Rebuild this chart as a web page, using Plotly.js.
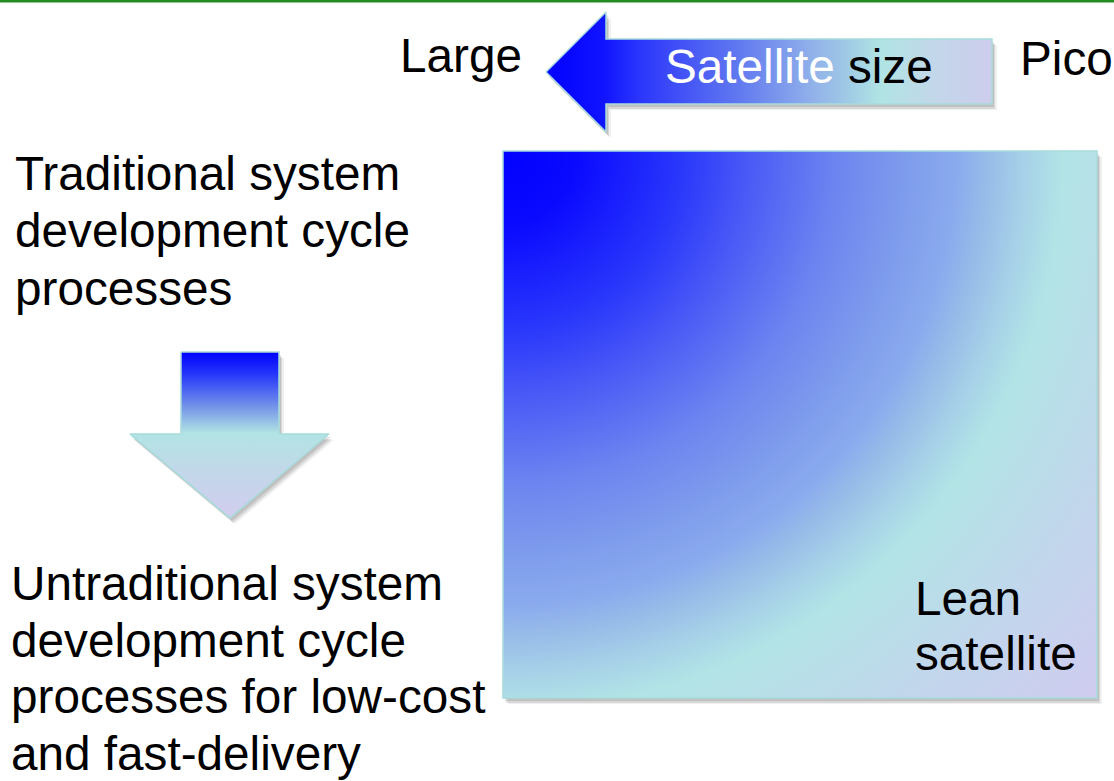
<!DOCTYPE html>
<html><head><meta charset="utf-8">
<script src="https://cdn.plot.ly/plotly-3.0.1.min.js"></script>
<style>html,body{margin:0;padding:0;background:#fff}</style>
</head><body><div id="chart" style="width:1114px;height:781px"></div>
<script>
// ---- text content ----
const sizeEnds = ['Large', 'Pico'];
const arrowWordLight = 'Satellite';
const arrowWordDark = 'size';
const traditionalLines = ['Traditional system', 'development cycle', 'processes'];
const untraditionalLines = ['Untraditional system', 'development cycle', 'processes for low-cost', 'and fast-delivery'];
const leanLines = ['Lean', 'satellite'];

// ---- geometry (page pixels, y downward) ----
const sizeArrowX = [546, 606, 606, 992, 992, 606, 606, 546];
const sizeArrowY = [72, 12, 39, 39, 104, 104, 132, 72];
const downArrowX = [181, 279, 279, 329, 230, 130, 181, 181];
const downArrowY = [352, 352, 434, 434, 518, 434, 434, 352];
const sq = {x0: 503, x1: 1097, y0: 151, y1: 698};
const glowHalf = 900; // radius of the square's radial shading, centred at its top-left corner

// ---- colours ----
const sizeArrowScale = [[0,'#0000ff'],[0.13,'#1014ff'],[0.21,'#2a36fc'],[0.27,'#3a48f8'],[0.43,'#6078f0'],[0.6,'#92b2ea'],[0.66,'#9cc4e6'],[0.75,'#b0e4e4'],[0.88,'#c4d6ea'],[1,'#cdcdec']];
// top -> bottom
const downArrowTopToBottom = [[0,'#0000ff'],[0.13,'#2535fb'],[0.33,'#7494e8'],[0.49,'#b2e4e4'],[0.75,'#c4d6ea'],[1,'#d2ccee']];
const squareScale = [[0,'#0000ff'],[0.083,'#0a0aff'],[0.2,'#2a38fb'],[0.274,'#4a5af6'],[0.369,'#6c84f0'],[0.449,'#7e9cec'],[0.504,'#8aaaee'],[0.539,'#98bce8'],[0.578,'#a6d0e8'],[0.622,'#b2e4e6'],[0.756,'#c2d6ec'],[0.897,'#d0ccf0'],[1,'#d2ccf0']];
const edgeColor = '#a6dcdc';
const FONT = 'Liberation Sans, Arial, sans-serif';
const FS = 47.7;

const shift = (arr, d) => arr.map(v => v + d);
// vertical fill gradients run bottom -> top, so flip the stops
const downArrowScale = downArrowTopToBottom.map(([t,c]) => [1 - t, c]).reverse();

const traces = [];
// shadows of arrows
[[2,3,0.10],[3,5,0.10],[5,6,0.06]].forEach(([dx,dy,a]) => {
  traces.push({x: shift(sizeArrowX,dx), y: shift(sizeArrowY,dy), type:'scatter', mode:'none', fill:'toself', fillcolor:`rgba(0,0,0,${a})`, hoverinfo:'skip'});
  traces.push({x: shift(downArrowX,dx), y: shift(downArrowY,dy), type:'scatter', mode:'none', fill:'toself', fillcolor:`rgba(0,0,0,${a})`, hoverinfo:'skip'});
});
// arrows
traces.push({x: sizeArrowX, y: sizeArrowY, type:'scatter', mode:'lines', fill:'toself',
  line:{color:edgeColor, width:1.5}, fillgradient:{type:'horizontal', colorscale:sizeArrowScale}, hoverinfo:'skip'});
traces.push({x: downArrowX, y: downArrowY, type:'scatter', mode:'lines', fill:'toself',
  line:{color:edgeColor, width:1.5}, fillgradient:{type:'vertical', colorscale:downArrowScale}, hoverinfo:'skip'});
// square shading (clipped to the square's subplot)
traces.push({
  x: [sq.x0-glowHalf, sq.x0+glowHalf, sq.x0+glowHalf, sq.x0-glowHalf, sq.x0-glowHalf],
  y: [sq.y0-glowHalf, sq.y0-glowHalf, sq.y0+glowHalf, sq.y0+glowHalf, sq.y0-glowHalf],
  xaxis:'x2', yaxis:'y2', type:'scatter', mode:'none', fill:'toself',
  fillgradient:{type:'radial', colorscale:squareScale}, hoverinfo:'skip'});

const shapes = [
  {type:'line', xref:'x', yref:'y', x0:0, x1:1114, y0:1.2, y1:1.2, line:{color:'#228b22', width:2.5}},
];
[[2,3,0.10],[3,5,0.10],[5,6,0.06]].forEach(([dx,dy,a]) => {
  shapes.push({type:'rect', xref:'x', yref:'y', layer:'below', x0:sq.x0+dx, x1:sq.x1+dx, y0:sq.y0+dy, y1:sq.y1+dy, fillcolor:`rgba(0,0,0,${a})`, line:{width:0}});
});
shapes.push({type:'rect', xref:'x', yref:'y', layer:'above', x0:sq.x0, x1:sq.x1, y0:sq.y0, y1:sq.y1, fillcolor:'rgba(0,0,0,0)', line:{color:edgeColor, width:1.5}});

const base = 0.3465 * FS; // baseline offset from a middle-anchored box
const ann = (text, x, baseline) => ({text, x, y: baseline - base, xref:'x', yref:'y', xanchor:'left', yanchor:'middle',
  showarrow:false, borderpad:0, font:{family:FONT, size:FS, color:'#000'}});
const annotations = [];
annotations.push(ann(sizeEnds[0], 399, 72));
annotations.push(ann(sizeEnds[1], 1019, 75));
annotations.push(ann(`<span style="color:#ffffff">${arrowWordLight}</span> ${arrowWordDark}`, 664, 83));
traditionalLines.forEach((t,i) => annotations.push(ann(t, 14, 190 + i*57.5)));
untraditionalLines.forEach((t,i) => annotations.push(ann(t, 10, 600 + i*56.7)));
leanLines.forEach((t,i) => annotations.push(ann(t, 914, 615 + i*55)));

const layout = {
  width:1114, height:781, margin:{l:0,r:0,t:0,b:0,pad:0},
  paper_bgcolor:'#ffffff', plot_bgcolor:'rgba(0,0,0,0)', showlegend:false,
  xaxis:{range:[0,1114], visible:false, fixedrange:true, domain:[0,1]},
  yaxis:{range:[781,0], visible:false, fixedrange:true, domain:[0,1]},
  xaxis2:{range:[sq.x0, sq.x1], visible:false, fixedrange:true, anchor:'y2', domain:[sq.x0/1114, sq.x1/1114]},
  yaxis2:{range:[sq.y1, sq.y0], visible:false, fixedrange:true, anchor:'x2', domain:[1-sq.y1/781, 1-sq.y0/781]},
  shapes, annotations
};
Plotly.newPlot('chart', traces, layout, {displayModeBar:false, staticPlot:true});
</script></body></html>
